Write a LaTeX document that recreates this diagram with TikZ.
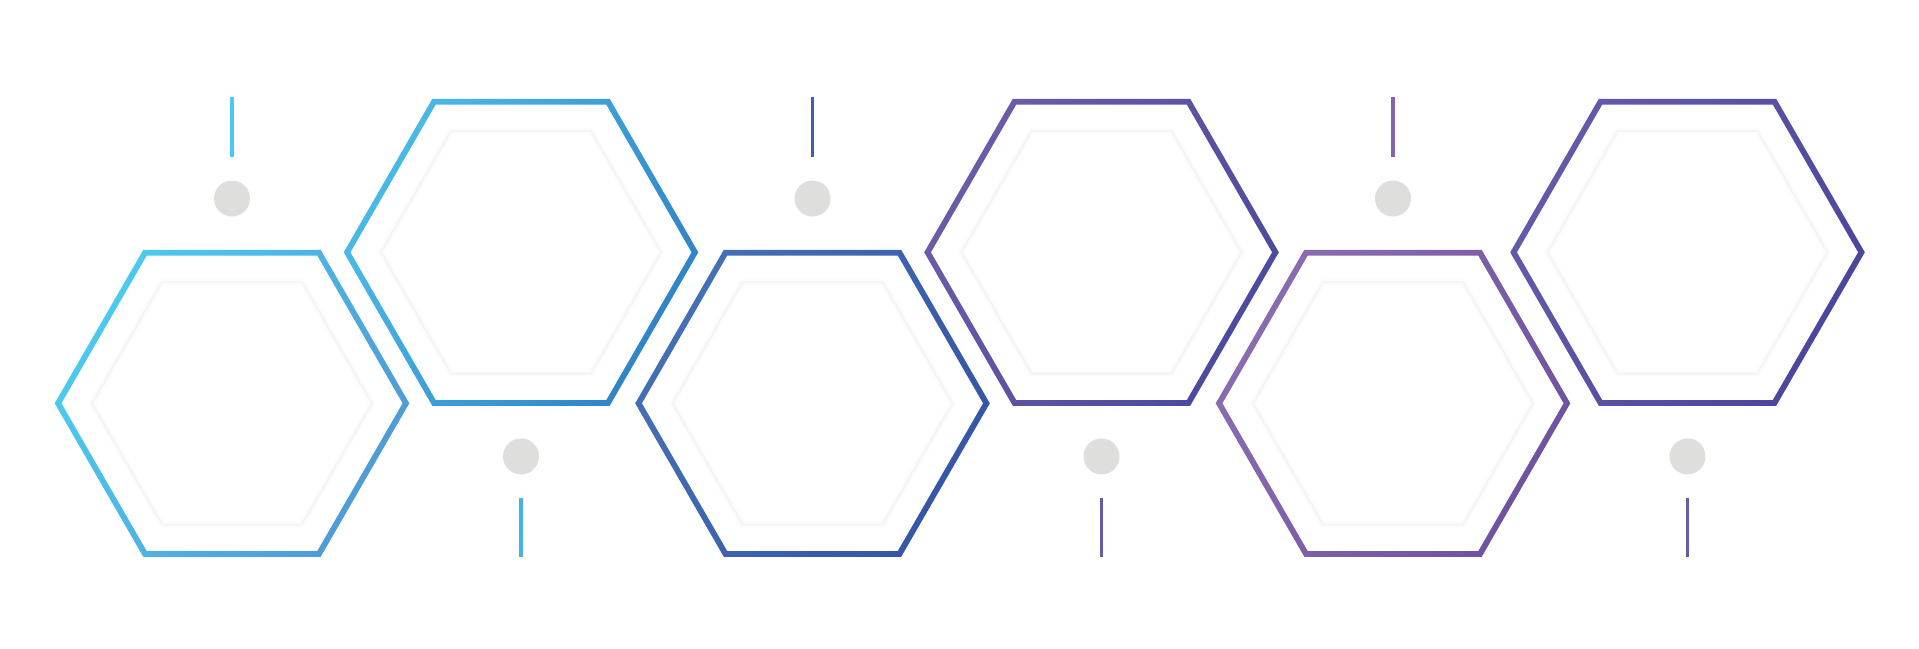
\documentclass[tikz,border=0pt]{standalone}
\usetikzlibrary{calc}
\definecolor{dotgray}{HTML}{DEDEDC}
\definecolor{innerA}{HTML}{FCFCFC}
\definecolor{innerB}{HTML}{F5F5F5}
\definecolor{hA1}{HTML}{4CCBF0}\definecolor{hB1}{HTML}{4F9AD6}
\definecolor{hA2}{HTML}{4ABBE9}\definecolor{hB2}{HTML}{2F82C6}
\definecolor{hA3}{HTML}{4470B6}\definecolor{hB3}{HTML}{3555A6}
\definecolor{hA4}{HTML}{6C5BA8}\definecolor{hB4}{HTML}{4B4A9E}
\definecolor{hA5}{HTML}{8A6CB0}\definecolor{hB5}{HTML}{6E52A0}
\definecolor{hA6}{HTML}{645AAA}\definecolor{hB6}{HTML}{4A469C}
\definecolor{ln1}{HTML}{4CC9F0}
\definecolor{ln2}{HTML}{45B2E6}
\definecolor{ln3}{HTML}{3E60AA}
\definecolor{ln4}{HTML}{6A5AAA}
\definecolor{ln5}{HTML}{8464AC}
\definecolor{ln6}{HTML}{6A5AAC}
\tikzset{
  stemline/.style={line width=3.3pt},
  dotmark/.style={fill=dotgray},
  innersoft/.style={draw=innerA, line width=6pt, line join=miter},
  innerline/.style={draw=innerB, line width=2pt, line join=miter},
}
\newcommand\hexring[4]{%
  \shade[even odd rule, left color=#3, right color=#4, shading angle=60, shift={(#1,#2)}]
    (0:177.3) -- (60:177.3) -- (120:177.3) -- (180:177.3) -- (240:177.3) -- (300:177.3) -- cycle
    (0:170.6) -- (60:170.6) -- (120:170.6) -- (180:170.6) -- (240:170.6) -- (300:170.6) -- cycle;
  \path[innersoft, shift={(#1,#2)}]
    (0:140) -- (60:140) -- (120:140) -- (180:140) -- (240:140) -- (300:140) -- cycle;
  \path[innerline, shift={(#1,#2)}]
    (0:140) -- (60:140) -- (120:140) -- (180:140) -- (240:140) -- (300:140) -- cycle;
}
\begin{document}
\begin{tikzpicture}[x=1pt,y=-1pt]
\useasboundingbox[fill=white] (0,0) rectangle (1919,648);
% hexagons
\hexring{232}{403.3}{hA1}{hB1}
\hexring{521}{252.3}{hA2}{hB2}
\hexring{812.5}{403.3}{hA3}{hB3}
\hexring{1101.5}{252.3}{hA4}{hB4}
\hexring{1393}{403.3}{hA5}{hB5}
\hexring{1687.5}{252.3}{hA6}{hB6}
% dots and stems above bottom-row hexagons
\foreach \cx/\c in {232/ln1, 812.5/ln3, 1393/ln5} {
  \coordinate (t1) at (\cx,97);
  \coordinate (t2) at (\cx,157);
  \draw[stemline, draw=\c] (t1) -- (t2);
  \fill[dotmark] (\cx,198.5) circle (18);
}
% dots and stems below top-row hexagons
\foreach \cx/\c in {521/ln2, 1101.5/ln4, 1687.5/ln6} {
  \coordinate (b1) at (\cx,497.5);
  \coordinate (b2) at (\cx,557);
  \draw[stemline, draw=\c] (b1) -- (b2);
  \fill[dotmark] (\cx,456.4) circle (18);
}
\end{tikzpicture}
\end{document}
